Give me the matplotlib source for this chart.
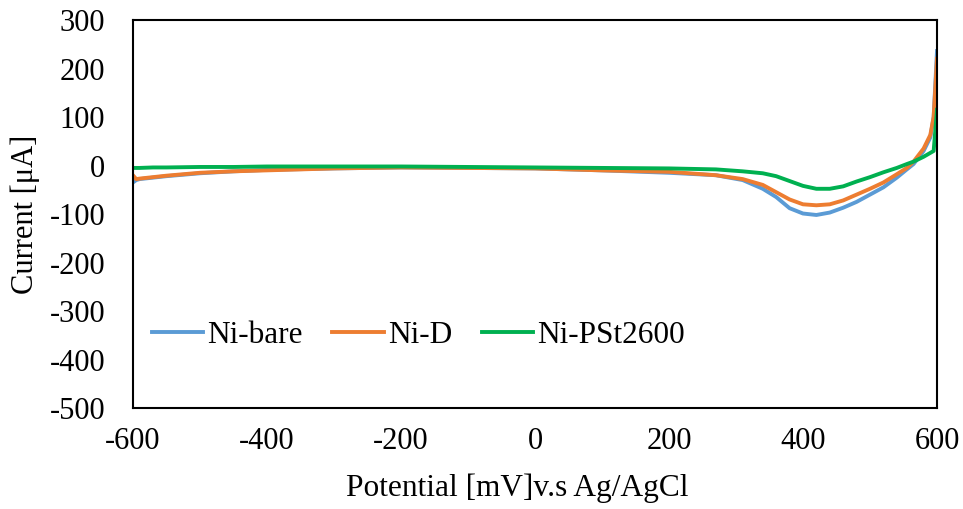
import matplotlib
matplotlib.use("Agg")
from matplotlib import pyplot as plt

# potential sweep (mV vs Ag/AgCl)
potential = [-600, -595, -590, -570, -550, -500, -450, -400, -300, -200, -100, 0,
             100, 200, 270, 310, 340, 360, 380, 400, 420, 440, 460, 480, 500,
             520, 540, 555, 565, 580, 590, 595, 600]

ni_bare = [-35, -30, -28, -25, -22, -16, -12, -9, -6, -4, -5, -6,
           -10, -15, -20, -30, -48, -65, -88, -99, -102, -97, -87, -75, -60,
           -45, -25, -8, 3, 30, 58, 100, 236]

ni_d = [-20, -28, -27, -24, -21, -15, -12, -10, -6, -4, -5, -6,
        -10, -13, -20, -28, -40, -55, -70, -80, -82, -80, -72, -60, -48,
        -35, -18, -5, 8, 35, 63, 100, 220]

ni_pst2600 = [-5, -5, -5, -4, -4, -3, -3, -2, -2, -2, -3, -4,
              -5, -6, -8, -12, -16, -22, -32, -42, -48, -48, -43, -33, -24,
              -14, -5, 3, 8, 18, 26, 30, 115]

plt.rcParams['font.family'] = ['Liberation Serif', 'DejaVu Serif']
plt.rcParams['axes.unicode_minus'] = False
fs = 22

fig = plt.figure(figsize=(9.63, 5.09), dpi=100)
ax = fig.add_axes([0.138, 0.1984, 0.835, 0.7623])

ax.plot(potential, ni_bare, color='#5B9BD5', lw=2.8, label='Ni-bare')
ax.plot(potential, ni_d, color='#ED7D31', lw=2.8, label='Ni-D')
ax.plot(potential, ni_pst2600, color='#00B050', lw=2.8, label='Ni-PSt2600')

ax.set_xlim(-600, 600)
ax.set_ylim(-500, 300)
ax.set_xticks(range(-600, 601, 200))
ax.set_yticks(range(-500, 301, 100))
ax.tick_params(length=0, labelsize=fs)
ax.tick_params(axis='y', pad=20)
ax.tick_params(axis='x', pad=14)
for s in ax.spines.values():
    s.set_linewidth(1.5)
    s.set_color('black')

ax.set_xlabel('Potential [mV]v.s Ag/AgCl', fontsize=22.6)
ax.xaxis.set_label_coords(0.478, -0.168)
ax.set_ylabel('Current [μA]', fontsize=fs, labelpad=7)

ax.legend(loc='center left', bbox_to_anchor=(0.0236, 0.188), ncol=3, frameon=False,
          fontsize=22.5, handlelength=1.65, handletextpad=0.12, columnspacing=0.95,
          borderpad=0, borderaxespad=0)

fig.savefig('out.png', dpi=100)
